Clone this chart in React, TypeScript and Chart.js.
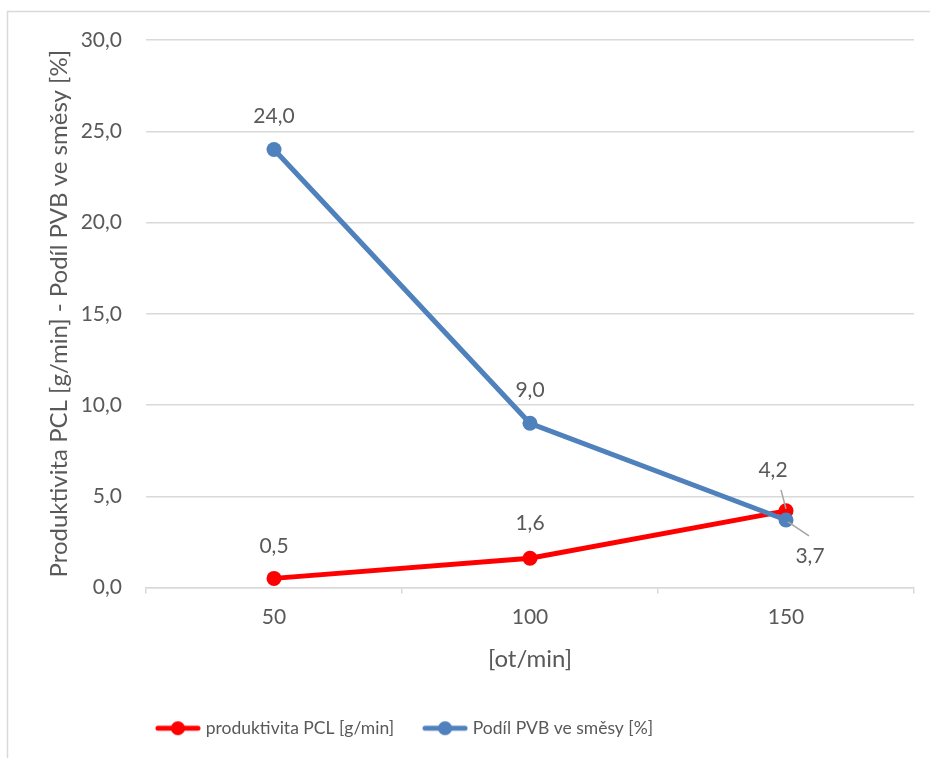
import React, { useEffect, useRef } from "react";
import { Chart, registerables } from "chart.js";

Chart.register(...registerables);

const categories = ["50", "100", "150"];
const pclValues = [0.5, 1.6, 4.2];
const pvbValues = [24.0, 9.0, 3.7];
const seriesNames = ["produktivita PCL [g/min]", "Podíl PVB ve směsy [%]"];
const yTitle = "Produktivita PCL [g/min] - Podíl PVB ve směsy [%]";
const xTitle = "[ot/min]";

const RED = "#ff0000";
const BLUE = "#4f81bd";
const TEXT = "#595959";
const GRID = "#d9d9d9";
const FONT = "Lato, 'Open Sans', sans-serif";

function legendIcon(color: string) {
  const c = document.createElement("canvas");
  c.width = 46;
  c.height = 16;
  const g = c.getContext("2d")!;
  g.strokeStyle = color;
  g.lineWidth = 5;
  g.lineCap = "round";
  g.beginPath();
  g.moveTo(3, 8);
  g.lineTo(43, 8);
  g.stroke();
  g.fillStyle = color;
  g.beginPath();
  g.arc(23, 8, 7, 0, Math.PI * 2);
  g.fill();
  return c;
}

// label offsets per dataset/point: [dx, dy, leader]
const labelOffsets: number[][][] = [
  [[0, -32, 0], [0, -35, 0], [-13, -41, 1]],
  [[0, -33, 0], [0, -33, 0], [24, 36, 1]],
];

const frame = {
  id: "frame",
  beforeDraw(chart: any) {
    const ctx = chart.ctx;
    ctx.save();
    ctx.fillStyle = "#ffffff";
    ctx.fillRect(0, 0, chart.width, chart.height);
    ctx.strokeStyle = GRID;
    ctx.lineWidth = 1.5;
    ctx.beginPath();
    ctx.moveTo(7.5, chart.height);
    ctx.lineTo(7.5, 11.5);
    ctx.lineTo(chart.width, 11.5);
    ctx.stroke();
    ctx.restore();
  },
};

const legendShift = {
  id: "legendShift",
  afterLayout(chart: any) {
    if (chart.legend) {
      chart.legend.right = chart.legend.right - 102;
    }
  },
};

const dataLabels = {
  id: "dataLabels",
  afterDatasetsDraw(chart: any) {
    const ctx = chart.ctx;
    ctx.save();
    ctx.font = `21px ${FONT}`;
    ctx.fillStyle = TEXT;
    ctx.textAlign = "center";
    ctx.textBaseline = "middle";
    chart.data.datasets.forEach((ds: any, di: number) => {
      const meta = chart.getDatasetMeta(di);
      meta.data.forEach((pt: any, i: number) => {
        const [dx, dy, leader] = labelOffsets[di][i];
        const v = ds.data[i] as number;
        const lx = pt.x + dx;
        const ly = pt.y + dy;
        if (leader) {
          ctx.save();
          ctx.strokeStyle = "#a6a6a6";
          ctx.lineWidth = 1.5;
          ctx.beginPath();
          if (dy < 0) {
            ctx.moveTo(lx + 8, ly + 20);
            ctx.lineTo(pt.x, pt.y - 2);
          } else {
            ctx.moveTo(pt.x + 2, pt.y + 2);
            ctx.lineTo(lx - 1, ly - 20);
          }
          ctx.stroke();
          ctx.restore();
        }
        ctx.fillText(v.toFixed(1).replace(".", ","), lx, ly);
      });
    });
    ctx.restore();
  },
};

export default function App() {
  const ref = useRef<HTMLCanvasElement>(null);
  useEffect(() => {
    const icons = [legendIcon(RED), legendIcon(BLUE)];
    const chart = new Chart(ref.current!, {
      type: "line",
      data: {
        labels: categories,
        datasets: [
          {
            label: seriesNames[0],
            data: pclValues,
            borderColor: RED,
            backgroundColor: RED,
            borderWidth: 5,
            pointRadius: 7.5,
            pointBorderWidth: 0,
            order: 1,
          } as any,
          {
            label: seriesNames[1],
            data: pvbValues,
            borderColor: BLUE,
            backgroundColor: BLUE,
            borderWidth: 5,
            pointRadius: 7.5,
            pointBorderWidth: 0,
            order: 0,
          } as any,
        ],
      },
      options: {
        responsive: false,
        animation: false,
        devicePixelRatio: 1,
        layout: { padding: { top: 40, right: 16, left: 0, bottom: 11 } },
        elements: {
          point: { pointStyle: "circle" },
          line: { tension: 0 },
        },
        plugins: {
          tooltip: { enabled: false },
          legend: {
            position: "bottom",
            labels: {
              usePointStyle: true,
              pointStyleWidth: 38,
              boxHeight: 18,
              padding: 32,
              color: TEXT,
              font: { family: FONT, size: 17.5 },
              sort: (a: any, b: any) => a.datasetIndex - b.datasetIndex,
              generateLabels: (c: any) => {
                const items = (Chart.defaults as any).plugins.legend.labels.generateLabels(c);
                return items.map((it: any) => ({ ...it, pointStyle: icons[it.datasetIndex] }));
              },
            },
          },
        },
        scales: {
          x: {
            type: "category",
            offset: true,
            afterFit: (s: any) => {
              s.height = 100;
            },
            grid: {
              offset: true,
              drawOnChartArea: false,
              drawTicks: true,
              tickLength: 6,
              color: GRID,
              lineWidth: 1.5,
            },
            border: { display: true, color: GRID, width: 1.5 },
            ticks: { color: TEXT, font: { family: FONT, size: 21 }, padding: 11 },
            title: {
              display: true,
              text: xTitle,
              color: TEXT,
              font: { family: FONT, size: 24 },
              padding: { top: 6, bottom: 14 },
            },
          },
          y: {
            min: 0,
            max: 30,
            afterFit: (s: any) => {
              s.width = 146;
            },
            grid: { drawTicks: false, color: GRID, lineWidth: 1.5 },
            border: { display: false },
            ticks: {
              stepSize: 5,
              color: TEXT,
              padding: 24,
              font: { family: FONT, size: 21 },
              callback: (v: any) => Number(v).toFixed(1).replace(".", ","),
            },
            title: {
              display: true,
              text: yTitle,
              color: TEXT,
              font: { family: FONT, size: 24 },
              padding: { top: 45, bottom: 0 },
            },
          },
        },
      },
      plugins: [frame, legendShift, dataLabels],
    });
    return () => chart.destroy();
  }, []);
  return (
    <div style={{ position: "absolute", left: 0, top: 0, width: 930, height: 758 }}>
      <canvas ref={ref} width={930} height={758} style={{ display: "block" }} />
    </div>
  );
}
